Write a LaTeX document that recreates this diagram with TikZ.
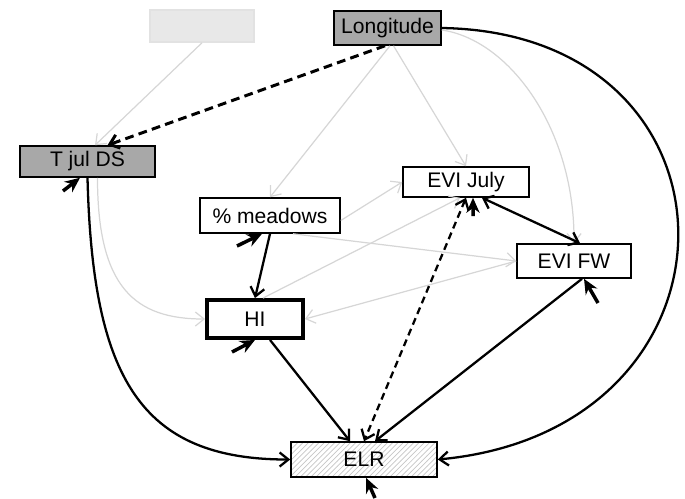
\documentclass[tikz,border=0pt]{standalone}
\usepackage{fontspec}
\setmainfont{Liberation Sans}
\usetikzlibrary{calc,arrows.meta,patterns}

\definecolor{boxgrey}{HTML}{A8A8A8}
\definecolor{paleline}{HTML}{D6D6D6}

\begin{document}
\begin{tikzpicture}[x=0.02cm,y=-0.02cm,
font=\fontsize{12}{14}\selectfont,
var/.style={rectangle, draw, line width=0.9pt, inner sep=0pt},
shaded/.style={var, fill=boxgrey},
path/.style={line width=1.3pt, -{Straight Barb[length=5pt,width=8pt]}},
dashpath/.style={path, dash pattern=on 4pt off 2.6pt},
faint/.style={draw=paleline, line width=0.7pt, -{Straight Barb[length=5pt,width=8pt]}},
err/.style={line width=2pt, -{Stealth[length=8.5pt,width=7.5pt]}}]

\useasboundingbox (0,0) rectangle (685,498);

%% place all variables
\node[var, draw=paleline!70, fill=gray!18, minimum width=2.08cm, minimum height=0.64cm] (blank) at (202,26) {};
\node[shaded, minimum width=2.14cm, minimum height=0.68cm] (lon) at (387.5,28) {Longitude};
\node[shaded, minimum width=2.7cm, minimum height=0.62cm] (tjul) at (87.5,161.5) {T jul DS};
\node[var, minimum width=2.52cm, minimum height=0.6cm] (evij) at (466,182) {EVI July};
\node[var, minimum width=2.8cm, minimum height=0.7cm] (mead) at (270,215.5) {\% meadows};
\node[var, minimum width=2.28cm, minimum height=0.68cm] (evifw) at (574,261) {EVI FW};
\node[var, line width=2.2pt, minimum width=1.92cm, minimum height=0.76cm] (hi) at (255,319) {HI};
\node[var, fill=gray!6, pattern=north east lines, pattern color=gray!45, minimum width=2.92cm, minimum height=0.7cm] (elr) at (364,459.5) {};
\node (elrtext) at (elr.center) {ELR};

%% non significant paths
\draw[faint] (blank.south) -- ([xshift=0.15cm]tjul.north);
\draw[faint] ([xshift=0.05cm]lon.south) -- (mead.north);
\draw[faint] ([xshift=0.12cm]lon.south) -- (evij.north);
\draw[faint] ([yshift=-0.04cm]lon.east) .. controls (510,40) and (575,130) .. (evifw.north);
\draw[faint] ([xshift=0.2cm]tjul.south) .. controls +(0,110) and +(-70,0) .. (hi.west);
\draw[faint] ([yshift=-0.1cm]mead.east) -- (evij.west);
\draw[faint] ([xshift=0.46cm]mead.south) -- (evifw.west);
\draw[faint] ([xshift=0.16cm]hi.north) -- ([xshift=-0.12cm]evij.south);
\draw[faint] (evifw.west) -- (hi.east);

%% significant paths
\draw[dashpath, line width=1.7pt, dash pattern=on 5pt off 3pt] ([xshift=-0.05cm]lon.south) -- ([xshift=0.4cm]tjul.north);
\draw[path] (lon.east) .. controls +(315,5) and +(320,-30) .. (elr.east);
\draw[path] (tjul.south) .. controls +(5,200) and +(-150,0) .. (elr.west);
\draw[path] (mead.south) -- (hi.north);
\draw[path] ([xshift=0.3cm]hi.south) -- ([xshift=-0.28cm]elr.north);
\draw[dashpath, {Straight Barb[length=5pt,width=8pt]}-{Straight Barb[length=5pt,width=8pt]}] (evij.south) -- (elr.north);
\draw[path, {Straight Barb[length=5pt,width=8pt]}-{Straight Barb[length=5pt,width=8pt]}] ([xshift=0.12cm]evifw.north) -- ([xshift=0.32cm]evij.south);
\draw[path] ([xshift=0.16cm]evifw.south) -- ([xshift=0.22cm]elr.north);

%% residual arrows
\coordinate (r-tjul) at (63,191);
\coordinate (r-mead) at (237,246);
\coordinate (r-hi) at (232,352);
\coordinate (r-evij) at (473,216);
\coordinate (r-evifw) at (598,303);
\coordinate (r-elr) at (375,498);
\draw[err] (r-tjul) -- ([xshift=-0.15cm]tjul.south);
\draw[err] (r-mead) -- ([xshift=-0.16cm]mead.south);
\draw[err] (r-hi) -- (hi.south);
\draw[err] (r-evij) -- ([xshift=0.14cm]evij.south);
\draw[err] (r-evifw) -- ([xshift=0.2cm]evifw.south);
\draw[err] (r-elr) -- ([xshift=0.04cm]elr.south);

\end{tikzpicture}
\end{document}
